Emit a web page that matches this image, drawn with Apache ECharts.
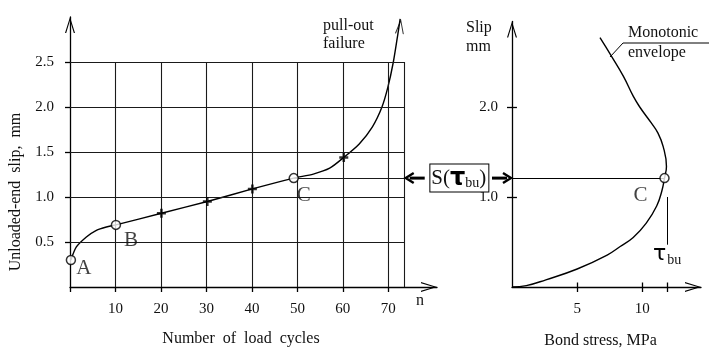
<!DOCTYPE html>
<html><head><meta charset="utf-8">
<script src="https://cdn.jsdelivr.net/npm/echarts@6.0.0/dist/echarts.min.js"></script>
<style>html,body{margin:0;padding:0;background:#fff}#c{width:709px;height:348px}</style>
</head><body><div id="c"></div><script>
// ---- left chart: slip vs number of load cycles ----
const cycleN    = [0.2, 1.4, 3.6, 5.8, 8.0, 10.1, 20.1, 30.2, 40.1, 49.2, 53.5, 57.1, 60.2, 63.6, 66.5, 68.6, 69.9, 71.1, 72.0, 72.6];
const cycleSlip = [0.30, 0.445, 0.556, 0.63, 0.667, 0.69, 0.82, 0.95, 1.09, 1.21, 1.255, 1.32, 1.44, 1.59, 1.78, 2.0, 2.22, 2.5, 2.78, 2.98];
const openN     = [0.2, 10.1, 49.2];
const openSlip  = [0.30, 0.69, 1.21];
const openNames = ['A', 'B', 'C'];
const crossN    = [20.1, 30.2, 40.1, 60.2];
const crossSlip = [0.82, 0.95, 1.09, 1.44];
const cycleTicks = [10, 20, 30, 40, 50, 60, 70];
const slipTicks  = [0.5, 1.0, 1.5, 2.0, 2.5];
const gridEdgeN  = 73.6;
// ---- right chart: monotonic envelope ----
const stressMPa = [0, 1.1, 2.6, 5.0, 7.3, 8.3, 9.3, 10.3, 11.1, 11.5, 11.7, 11.85, 11.6, 11.2, 10.7, 9.8, 9.3, 8.55, 7.65, 6.75];
const envSlip   = [0, 0.015, 0.08, 0.2, 0.355, 0.45, 0.55, 0.71, 0.9, 1.07, 1.21, 1.34, 1.56, 1.71, 1.82, 2.0, 2.12, 2.34, 2.56, 2.77];
const stressTicks = [5, 10];
const tauBu = 11.9;
const rightSlipTicks = [1.0, 2.0];
const stressC = 11.7;
const slipC = 1.21;

// styles
const SERIF = "'Liberation Serif', serif";
const INK = '#111';
const chevron = 'path://M0,16 L5,0 L10,16 L8.8,16 L5,3.4 L1.2,16 Z';
const plusPath = 'path://M3.6,0 L6.4,0 L6.4,3.6 L10,3.6 L10,6.4 L6.4,6.4 L6.4,10 L3.6,10 L3.6,6.4 L0,6.4 L0,3.6 L3.6,3.6 Z';
const openLabelOffsets = [[13, 8], [15, 16], [10, 17]];
const axisLineStyle = { color: '#000', width: 1.3 };
const tickStyle = { color: '#000', width: 1.3 };
const txt = { fontFamily: SERIF, color: INK };

const chart = echarts.init(document.getElementById('c'), null, { renderer: 'canvas' });

function seg(a, b) { return [{ coord: a }, { coord: b }]; }

const option = {
  animation: false,
  backgroundColor: '#fff',
  title: [
    { text: 'pull-out\nfailure', left: 323, top: 17, padding: 0, textStyle: Object.assign({ fontSize: 16, fontWeight: 'normal', lineHeight: 18 }, txt) },
    { text: 'Slip\nmm', left: 466, top: 18, padding: 0, textStyle: Object.assign({ fontSize: 16, fontWeight: 'normal', lineHeight: 19 }, txt) },
    { text: 'Monotonic\nenvelope', left: 628, top: 23, padding: 0, textStyle: Object.assign({ fontSize: 16, fontWeight: 'normal', lineHeight: 20 }, txt) },
    { text: 'n', left: 416, top: 293, padding: 0, textStyle: Object.assign({ fontSize: 16, fontWeight: 'normal' }, txt) }
  ],
  grid: [
    { left: 70, top: 17, width: 367, height: 270, outerBoundsMode: 'none', containLabel: false },
    { left: 512, top: 21.5, width: 189, height: 265.5, outerBoundsMode: 'none', containLabel: false }
  ],
  xAxis: [
    {
      gridIndex: 0, type: 'value', min: 0, max: 80.7,
      axisLine: { show: true, lineStyle: axisLineStyle, symbol: ['none', chevron], symbolSize: [10, 16], symbolOffset: [0, -8] },
      axisTick: { show: true, length: 5, customValues: [0].concat(cycleTicks), lineStyle: tickStyle },
      axisLabel: Object.assign({ customValues: cycleTicks, margin: 15, fontSize: 15 }, txt),
      splitLine: { show: false },
      name: 'Number  of  load  cycles', nameLocation: 'middle', nameGap: 44,
      nameTextStyle: Object.assign({ fontSize: 16, padding: [0, 25, 0, 0] }, txt)
    },
    {
      gridIndex: 1, type: 'value', min: 0, max: 14.5,
      axisLine: { show: true, lineStyle: axisLineStyle, symbol: ['none', chevron], symbolSize: [10, 16], symbolOffset: [0, -8] },
      axisTick: { show: true, length: 5, customValues: stressTicks.concat([tauBu]), lineStyle: tickStyle },
      axisLabel: Object.assign({ customValues: stressTicks, margin: 15, fontSize: 15 }, txt),
      splitLine: { show: false },
      name: 'Bond stress, MPa', nameLocation: 'middle', nameGap: 46,
      nameTextStyle: Object.assign({ fontSize: 16, padding: [0, 12, 0, 0] }, txt)
    }
  ],
  yAxis: [
    {
      gridIndex: 0, type: 'value', min: 0, max: 3.0,
      axisLine: { show: true, lineStyle: axisLineStyle, symbol: ['none', chevron], symbolSize: [10, 16], symbolOffset: [0, -8] },
      axisTick: { show: true, length: 5, customValues: slipTicks, lineStyle: tickStyle },
      axisLabel: Object.assign({ customValues: slipTicks, margin: 16, fontSize: 15, formatter: v => v.toFixed(1) }, txt),
      splitLine: { show: false },
      name: 'Unloaded-end  slip,  mm', nameLocation: 'middle', nameGap: 46,
      nameTextStyle: Object.assign({ fontSize: 16, padding: [0, 80, 0, 0] }, txt)
    },
    {
      gridIndex: 1, type: 'value', min: 0, max: 2.95,
      axisLine: { show: true, lineStyle: axisLineStyle, symbol: ['none', chevron], symbolSize: [10, 16], symbolOffset: [0, -8] },
      axisTick: { show: true, length: 5, customValues: rightSlipTicks, lineStyle: tickStyle },
      axisLabel: Object.assign({ customValues: rightSlipTicks, margin: 14, fontSize: 15, formatter: v => v.toFixed(1) }, txt),
      splitLine: { show: false }
    }
  ],
  series: [
    // grid lines of the left chart
    {
      type: 'line', xAxisIndex: 0, yAxisIndex: 0, data: [], silent: true, z: 1, symbol: 'none',
      markLine: {
        silent: true, symbol: ['none', 'none'], animation: false, label: { show: false },
        lineStyle: { color: '#1a1a1a', width: 1.1, type: 'solid' },
        emphasis: { disabled: true },
        data: cycleTicks.concat([gridEdgeN]).map(x => seg([x, 0], [x, slipTicks[slipTicks.length - 1]]))
          .concat(slipTicks.map(y => seg([0, y], [gridEdgeN, y])))
          .concat([seg([openN[2], slipC], [gridEdgeN, slipC])])
      }
    },
    // curve
    {
      type: 'line', xAxisIndex: 0, yAxisIndex: 0, z: 3, smooth: 0.25, symbol: 'none', clip: false,
      lineStyle: { color: '#000', width: 1.4 },
      data: cycleN.map((n, i) => [n, cycleSlip[i]])
    },
    // arrow head at the end of the curve
    {
      type: 'scatter', xAxisIndex: 0, yAxisIndex: 0, z: 4, clip: false,
      symbol: chevron, symbolSize: [9, 15], symbolOffset: [0, '50%'], symbolRotate: -6,
      itemStyle: { color: '#000' },
      data: [[cycleN[cycleN.length - 1], cycleSlip[cycleSlip.length - 1]]]
    },
    // cross marks
    {
      type: 'scatter', xAxisIndex: 0, yAxisIndex: 0, z: 5, symbol: plusPath, symbolSize: 9,
      itemStyle: { color: '#000' },
      data: crossN.map((n, i) => [n, crossSlip[i]])
    },
    // open points A, B, C
    {
      type: 'scatter', xAxisIndex: 0, yAxisIndex: 0, z: 6, symbol: 'circle', symbolSize: 9,
      itemStyle: { color: '#fff', borderColor: '#000', borderWidth: 1.5 },
      label: Object.assign({ show: true, position: 'inside', formatter: '{b}', fontSize: 21 }, txt),
      data: openN.map((n, i) => ({ name: openNames[i], value: [n, openSlip[i]], label: { offset: openLabelOffsets[i] } }))
    },
    // envelope
    {
      type: 'line', xAxisIndex: 1, yAxisIndex: 1, z: 3, smooth: 0.45, symbol: 'none',
      lineStyle: { color: '#000', width: 1.4 },
      data: stressMPa.map((s, i) => [s, envSlip[i]]),
      markLine: {
        silent: true, symbol: ['none', 'none'], animation: false, label: { show: false },
        lineStyle: { color: '#000', width: 1, type: 'solid' },
        emphasis: { disabled: true },
        data: [
          seg([0, slipC], [stressC, slipC]),
          [
            { coord: [tauBu, 1.0], label: { show: true, position: 'end', distance: -3, formatter: '{t|τ}{s|bu}',
              rich: { t: { fontSize: 22, fontFamily: 'DejaVu Sans', color: '#000' },
                      s: { fontSize: 14, fontFamily: SERIF, color: INK, padding: [12, 0, 0, 1] } } } },
            { coord: [tauBu, 0.47] }
          ]
        ].concat(stressTicks.concat([tauBu]).map(x => seg([x, 0], [x, 0.05])))
         .concat(rightSlipTicks.map(y => seg([0, y], [0.38, y])))
      }
    },
    // point C on envelope
    {
      type: 'scatter', xAxisIndex: 1, yAxisIndex: 1, z: 6, symbol: 'circle', symbolSize: 9,
      itemStyle: { color: '#fff', borderColor: '#000', borderWidth: 1.5 },
      label: Object.assign({ show: true, position: 'inside', formatter: 'C', fontSize: 21, offset: [-24, 17] }, txt),
      data: [[stressC, slipC]]
    }
  ]
};
option.series[5].markLine.data.forEach((d, i) => { if (i >= 2) d[0].lineStyle = { width: 1.3 }; });

chart.setOption(option);

// annotation between the two charts, anchored through the axes
const pL = chart.convertToPixel({ gridIndex: 0 }, [gridEdgeN, slipC]);
const pR = chart.convertToPixel({ gridIndex: 1 }, [0, slipC]);
const y = pL[1];
const xl = pL[0] + 1, xr = pR[0];
chart.setOption({
  graphic: [
    { type: 'polyline', shape: { points: [[xl + 8, y - 5], [xl, y], [xl + 8, y + 5]] }, style: { stroke: '#000', lineWidth: 2.4, fill: null }, z: 10 },
    { type: 'line', shape: { x1: xl + 4, y1: y, x2: xl + 19, y2: y }, style: { stroke: '#000', lineWidth: 3 }, z: 10 },
    { type: 'line', shape: { x1: xr - 20, y1: y, x2: xr - 5, y2: y }, style: { stroke: '#000', lineWidth: 3 }, z: 10 },
    { type: 'polyline', shape: { points: [[xr - 9, y - 5], [xr - 1, y], [xr - 9, y + 5]] }, style: { stroke: '#000', lineWidth: 2.4, fill: null }, z: 10 },
    {
      type: 'text', x: (xl + 19 + xr - 20) / 2 + 1, y: y, z: 10,
      style: {
        text: '{a|S(}{t|τ}{s|bu}{a|)}',
        align: 'center', verticalAlign: 'middle', textAlign: 'center', textVerticalAlign: 'middle',
        borderColor: '#000', borderWidth: 1, padding: [2, 2, 1, 1], backgroundColor: '#fff',
        rich: {
          a: { fontSize: 21, fontFamily: SERIF, fill: INK, color: INK },
          t: { fontSize: 24, fontFamily: 'DejaVu Sans', fontWeight: 'bold', fill: '#000', color: '#000' },
          s: { fontSize: 14, fontFamily: SERIF, fill: INK, color: INK, padding: [9, 0, 0, 0] }
        }
      }
    },
    // leader line for the monotonic envelope label
    { type: 'polyline', shape: { points: [[610, 57], [623, 43], [709, 43]] }, style: { stroke: '#000', lineWidth: 1, fill: null } }
  ]
});
</script></body></html>
